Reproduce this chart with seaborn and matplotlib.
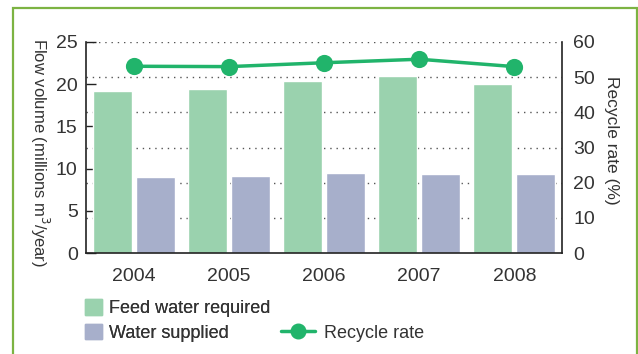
#!/usr/bin/env python3
import pandas as pd
import matplotlib
matplotlib.use("Agg")
import matplotlib.pyplot as plt
from matplotlib.patches import Patch, Rectangle
from matplotlib.lines import Line2D
from matplotlib.ticker import FixedLocator
import seaborn as sns

# Values
years = ["2004", "2005", "2006", "2007", "2008"]
feed_water = [19.2, 19.4, 20.4, 21.0, 20.0]
water_supplied = [9.05, 9.15, 9.5, 9.35, 9.35]
recycle_rate = [53.1, 53.0, 54.1, 55.1, 53.0]

flow_ticks = [0, 5, 10, 15, 20, 25]
rate_ticks = [0, 10, 20, 30, 40, 50, 60]

GREEN = "#9AD2AE"
BLUE = "#A7AFCB"
LINE = "#21B46B"
TEXT = "#333333"
BORDER = "#7CB342"

sns.set_style("white")
plt.rcParams["font.family"] = ["Liberation Sans", "DejaVu Sans"]
plt.rcParams["text.color"] = TEXT
plt.rcParams["xtick.color"] = TEXT
plt.rcParams["ytick.color"] = TEXT

bars = pd.DataFrame({
    "Year": years * 2,
    "Flow": feed_water + water_supplied,
    "Series": ["Feed water required"] * len(years) + ["Water supplied"] * len(years),
})
rate = pd.DataFrame({"Year": years, "Rate": recycle_rate})

fig = plt.figure(figsize=(6.38, 3.54), dpi=100)
ax = fig.add_axes([86 / 638, 1 - 253 / 354, 476 / 638, 211 / 354])

sns.barplot(data=bars, x="Year", y="Flow", hue="Series", palette=[GREEN, BLUE],
            width=0.9, gap=0.09, saturation=1, legend=False, ax=ax, zorder=2)

ax.set_ylim(0, 25)
ax.set_xlim(-0.5, len(years) - 0.5)
ax.set_yticks(flow_ticks)
ax.set_xlabel("")
ax.set_ylabel("")
ax.tick_params(axis="y", direction="in", length=7, width=1, labelsize=14, pad=6, color="#222222")
ax.tick_params(axis="x", which="major", length=0, labelsize=14, pad=11)
ax.xaxis.set_minor_locator(FixedLocator([i + 0.5 for i in range(len(years) - 1)]))
ax.tick_params(axis="x", which="minor", direction="in", length=5, width=1, color="#222222")
for side in ["top", "right"]:
    ax.spines[side].set_visible(False)
for side in ["left", "bottom"]:
    ax.spines[side].set_color("#222222")
    ax.spines[side].set_linewidth(1.2)

# dotted grid follows the right-hand axis
for r in rate_ticks[1:]:
    ax.axhline(r * 25 / 60, color="#555555", lw=1, ls=(0, (1, 3.5)), zorder=0)

ax2 = ax.twinx()
sns.pointplot(data=rate, x="Year", y="Rate", color=LINE, markers="o",
              markersize=10.5, linewidth=2.5, ax=ax2)
ax2.set_ylim(0, 60)
ax2.set_xlim(-0.5, len(years) - 0.5)
ax2.set_yticks(rate_ticks)
ax2.set_ylabel("")
ax2.set_xlabel("")
ax2.tick_params(axis="y", length=0, labelsize=14, pad=8)
for side in ["top", "left", "bottom"]:
    ax2.spines[side].set_visible(False)
ax2.spines["right"].set_color("#222222")
ax2.spines["right"].set_linewidth(1.2)

fig.text(40 / 638, 1 - 152 / 354, "Flow volume (millions m$^3$/year)", rotation=270,
         ha="center", va="center", fontsize=12)
fig.text(611 / 638, 1 - 140 / 354, "Recycle rate (%)", rotation=270,
         ha="center", va="center", fontsize=12.5)

leg1 = fig.legend(handles=[Patch(color=GREEN, label="Feed water required"),
                           Patch(color=BLUE, label="Water supplied")],
                  loc="upper left", bbox_to_anchor=(85 / 638, 1 - 299 / 354),
                  frameon=False, fontsize=13, handlelength=0.95, handleheight=0.95,
                  handletextpad=0.4, labelspacing=0.38, borderpad=0, borderaxespad=0)
fig.legend(handles=[Line2D([], [], color=LINE, lw=2.5, marker="o", markersize=10.5,
                           label="Recycle rate")],
           loc="center left", bbox_to_anchor=(281 / 638, 1 - 333 / 354),
           frameon=False, fontsize=13, handlelength=1.9, handletextpad=0.5,
           borderpad=0, borderaxespad=0)
fig.add_artist(leg1)

fig.patches.append(Rectangle((12.5 / 638, -0.1), 624 / 638, 1.1 - 8 / 354,
                             transform=fig.transFigure, fill=False,
                             edgecolor=BORDER, lw=1.6, clip_on=False))

fig.savefig("out.png", dpi=100)
